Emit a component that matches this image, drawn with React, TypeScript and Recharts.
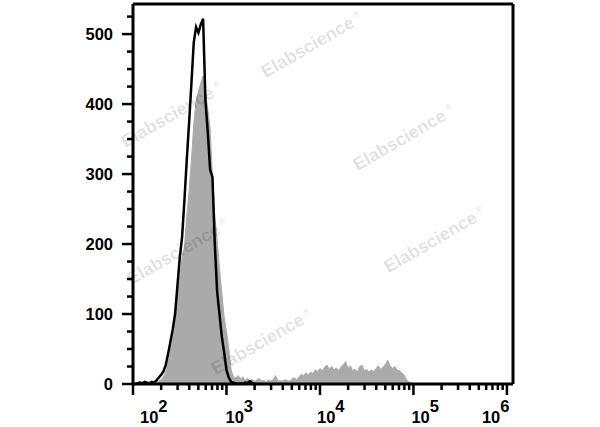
import React from "react";
import { ComposedChart, Area, Line, XAxis, YAxis, ReferenceLine } from "recharts";

// histogram bins on a log10 scale, starting at 10^2
const BIN_START = 2;
const BIN_WIDTH = 0.025;

// stained sample (grey filled)
const grayCounts = [
  0, 0, 0, 0, 0, 0, 1, 0, 1, 2, 2, 4, 6, 10, 17, 30, 46, 64, 86, 120,
  150, 180, 195, 240, 275, 320, 370, 405, 418, 430, 440, 418, 392, 365, 295, 240, 205, 165, 130, 95,
  75, 50, 20, 10, 9, 12, 7, 10, 5, 8, 4, 7, 3, 6, 8, 4, 5, 3, 6, 4,
  6, 12, 4, 5, 4, 6, 5, 4, 7, 9, 6, 10, 14, 12, 16, 13, 17, 15, 20, 18,
  22, 19, 24, 27, 21, 25, 20, 23, 19, 24, 28, 32, 22, 26, 19, 21, 17, 25, 27, 19,
  21, 17, 20, 18, 22, 26, 21, 24, 28, 34, 26, 22, 25, 20, 19, 16, 13, 6, 3, 2,
  1, 0,
];

// isotype control (black outline)
const blackCounts = [
  0, 0, 1, 2, 1, 3, 2, 1, 3, 2, 5, 9, 13, 18, 27, 43, 60, 78, 100, 140,
  180, 210, 262, 320, 373, 430, 488, 510, 502, 514, 522, 405, 360, 306, 296, 200, 132, 100, 68, 45,
  20, 9, 3, 2, 1, 0, 1, 0, 2, 1, 4, 1, 0, 0,
];

const Y_MAX = 543;
const X_MAX = 6.065;
const Y_TICKS = [0, 25, 50, 75, 100, 125, 150, 175, 200, 225, 250, 275, 300, 325, 350, 375, 400, 425, 450, 475, 500, 525];
const X_EXPONENTS = [2, 3, 4, 5, 6];
const MINOR_MULTIPLIERS = [2, 3, 4, 5, 6, 7, 8, 9];
// where each "10^n" label starts relative to its tick
const X_LABEL_DX: Record<number, number> = { 2: 7, 3: -1, 4: -3, 5: -2, 6: -25 };

const WATERMARKS = [
  [312, 45],
  [172, 115],
  [404, 138],
  [178, 252],
  [435, 240],
  [262, 342],
];

const FONT = "'Liberation Sans', Arial, Helvetica, sans-serif";

const data = grayCounts.map((g, i) => ({
  x: BIN_START + i * BIN_WIDTH,
  gray: g,
  black: i < blackCounts.length ? blackCounts[i] : null,
}));

const xTicks: number[] = [];
X_EXPONENTS.forEach((e) => {
  xTicks.push(e);
  if (e < 6) MINOR_MULTIPLIERS.forEach((m) => xTicks.push(e + Math.log10(m)));
});

function YTick(props: any) {
  const { x, y, payload } = props;
  const major = payload.value % 100 === 0;
  return (
    <g>
      <line x1={x - (major ? 11 : 6)} x2={x} y1={y} y2={y} stroke="#000" strokeWidth={2.5} />
      {major && (
        <text x={x - 20} y={y} textAnchor="end" dominantBaseline="central" fontFamily={FONT} fontWeight="bold" fontSize={16.5} fill="#000">
          {payload.value}
        </text>
      )}
    </g>
  );
}

function XTick(props: any) {
  const { x, y, payload } = props;
  const v = payload.value as number;
  const major = Math.abs(v - Math.round(v)) < 1e-6;
  const exp = Math.round(v);
  return (
    <g>
      <line x1={x} x2={x} y1={y} y2={y + (major ? 11 : 6)} stroke="#000" strokeWidth={2.5} />
      {major && (
        <text x={x + X_LABEL_DX[exp]} y={y + 39} textAnchor="start" fontFamily={FONT} fontWeight="bold" fontSize={16.5} fill="#000">
          10
          <tspan dy={-11}>{exp}</tspan>
        </text>
      )}
    </g>
  );
}

export default function App() {
  return (
    <div style={{ position: "fixed", left: 0, top: 0, width: 600, height: 427, background: "#fff" }}>
      <ComposedChart width={600} height={427} data={data} margin={{ top: 4, right: 87, left: 0, bottom: 0 }}>
        <XAxis
          dataKey="x"
          type="number"
          domain={[BIN_START, X_MAX]}
          ticks={xTicks}
          interval={0}
          height={43}
          tickSize={0}
          tickMargin={0}
          tickLine={false}
          tick={<XTick />}
          axisLine={{ stroke: "#000", strokeWidth: 3 }}
        />
        <YAxis
          type="number"
          domain={[0, Y_MAX]}
          ticks={Y_TICKS}
          interval={0}
          width={133}
          tickSize={0}
          tickMargin={0}
          tickLine={false}
          tick={<YTick />}
          axisLine={{ stroke: "#000", strokeWidth: 3 }}
        />
        <Area
          dataKey="gray"
          type="linear"
          fill="#aaaaaa"
          fillOpacity={1}
          stroke="#aaaaaa"
          strokeWidth={1}
          isAnimationActive={false}
        />
        <Line
          dataKey="black"
          type="linear"
          stroke="#000"
          strokeWidth={2.5}
          dot={false}
          isAnimationActive={false}
        />
        <ReferenceLine y={Y_MAX} stroke="#000" strokeWidth={3} />
        <ReferenceLine x={X_MAX} stroke="#000" strokeWidth={3} />
      </ComposedChart>
      {WATERMARKS.map(([cx, cy], i) => (
        <div
          key={i}
          style={{
            position: "absolute",
            left: cx,
            top: cy,
            transform: "translate(-50%, -50%) rotate(-30deg)",
            whiteSpace: "nowrap",
            fontFamily: FONT,
            fontWeight: "bold",
            fontSize: 18,
            color: "rgba(0,0,0,0.12)",
            pointerEvents: "none",
          }}
        >
          Elabscience<span style={{ fontSize: 9, verticalAlign: "super", marginLeft: 3 }}>®</span>
        </div>
      ))}
    </div>
  );
}
